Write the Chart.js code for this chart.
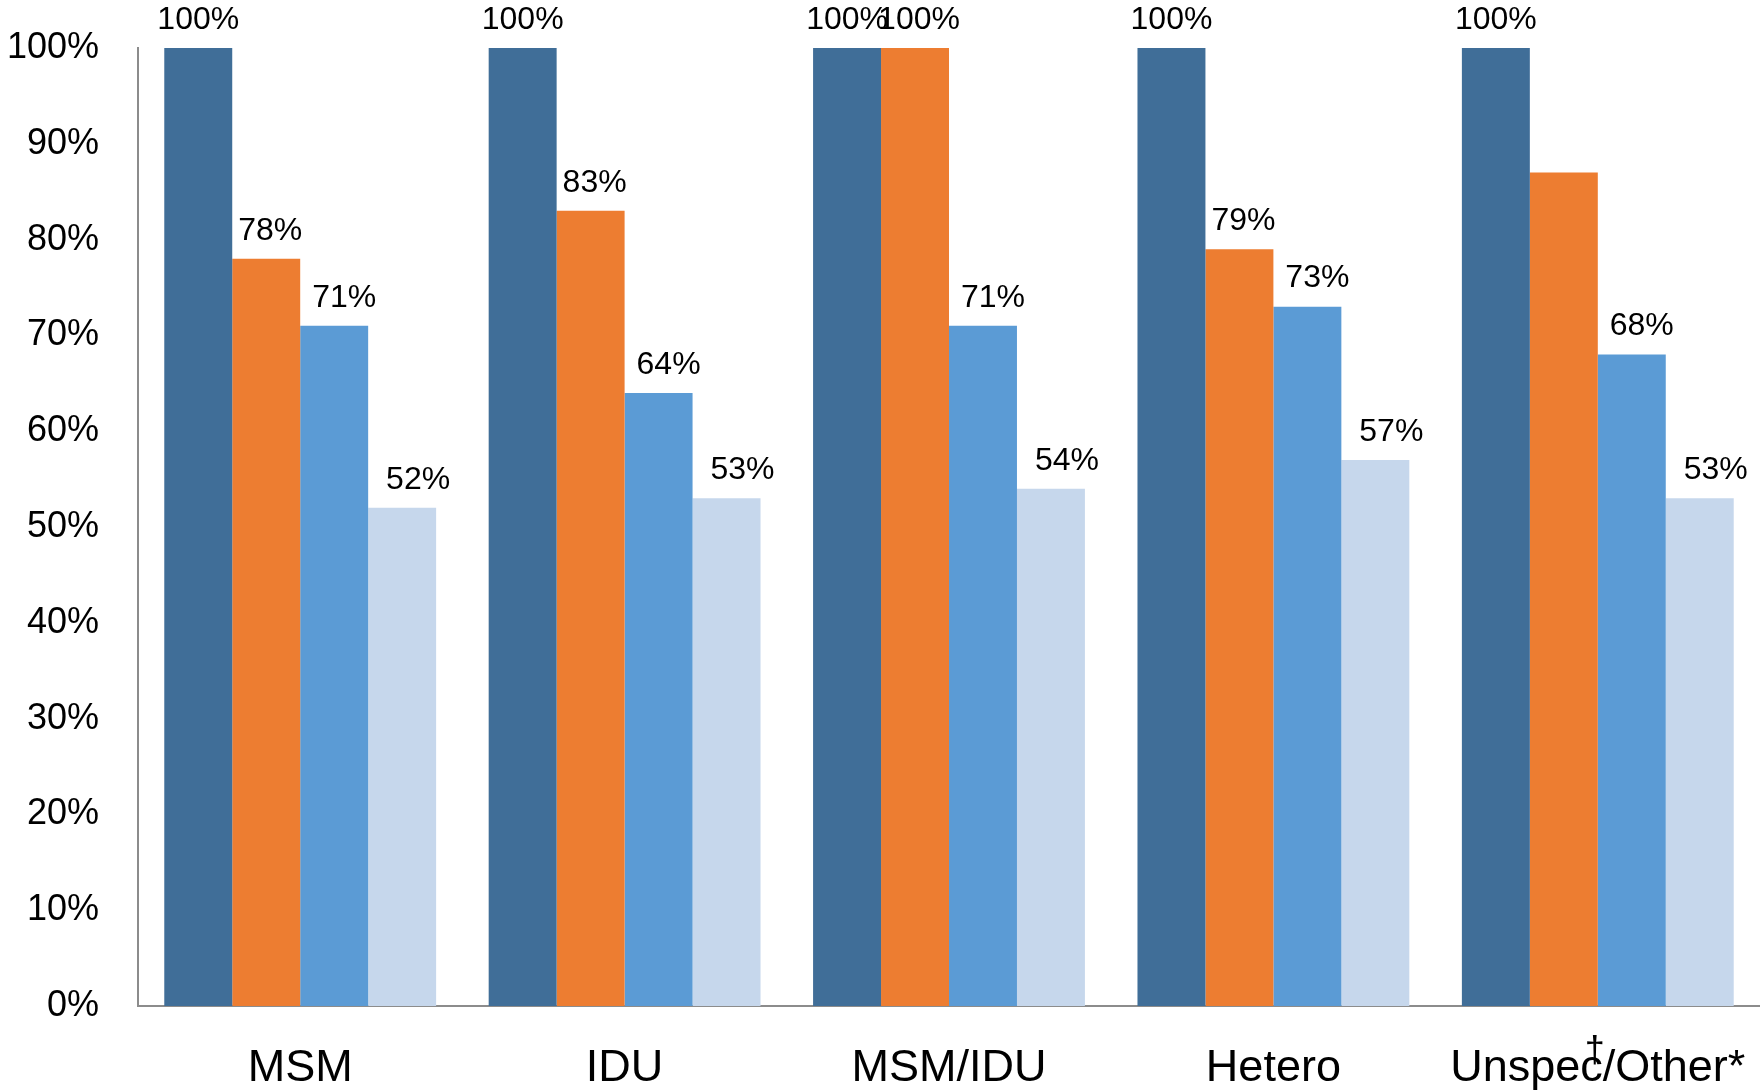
<html lang="">
<head>
    <title>Bar chart</title>
    <script src="https://cdn.jsdelivr.net/npm/chart.js@4.4.1/dist/chart.umd.min.js"></script>
    <style>
        html, body { margin: 0; padding: 0; background: #fff; }
        #wrap { width: 1760px; height: 1091px; }
    </style>
</head>
<body>
<div id="wrap">
    <canvas id="bar-chart" width="1760" height="1091"></canvas>
</div>
<script>
    const categories = ['MSM', 'IDU', 'MSM/IDU', 'Hetero', 'Unspec/Other*'];
    const series1 = [100, 100, 100, 100, 100];
    const series2 = [78, 83, 100, 79, 87];
    const series3 = [71, 64, 71, 73, 68];
    const series4 = [52, 53, 54, 57, 53];
    const yTicks = [0, 10, 20, 30, 40, 50, 60, 70, 80, 90, 100];
    // [dataset, index] of bars that carry no value label
    const unlabeled = [[1, 4]];

    const colors = ['#406E98', '#ED7D31', '#5B9BD5', '#C6D7EC'];
    const labelShift = [0, 4, 10, 16];
    const font = 'Liberation Sans';
    const catSize = 45;

    const valueLabels = {
        id: 'valueLabels',
        afterDatasetsDraw(chart) {
            const ctx = chart.ctx;
            ctx.save();
            ctx.font = '32px "' + font + '"';
            ctx.fillStyle = '#000';
            ctx.textAlign = 'center';
            ctx.textBaseline = 'middle';
            chart.data.datasets.forEach((ds, di) => {
                chart.getDatasetMeta(di).data.forEach((bar, i) => {
                    if (unlabeled.some(u => u[0] === di && u[1] === i)) return;
                    ctx.fillText(ds.data[i] + '%', bar.x + labelShift[di], bar.y - 28);
                });
            });
            ctx.restore();
        }
    };

    // superscript dagger sitting over "c/" in the last category label
    const dagger = {
        id: 'dagger',
        afterDraw(chart) {
            const ctx = chart.ctx;
            const xs = chart.scales.x;
            const last = categories.length - 1;
            ctx.save();
            ctx.font = catSize + 'px "' + font + '"';
            const full = ctx.measureText(categories[last]).width;
            const head = ctx.measureText('Unspec').width;
            const x = xs.getPixelForTick(last) - full / 2 + head - 8;
            ctx.font = '36px "' + font + '"';
            ctx.fillStyle = '#000';
            ctx.textAlign = 'center';
            ctx.textBaseline = 'middle';
            ctx.fillText('\u2020', x, 1052);
            ctx.restore();
        }
    };

    const mk = (label, data, i) => ({
        label: label,
        data: data,
        backgroundColor: colors[i],
        borderWidth: 0,
        barPercentage: 1.0,
        categoryPercentage: 0.838
    });

    new Chart(document.getElementById('bar-chart'), {
        type: 'bar',
        data: {
            labels: categories,
            datasets: [
                mk('s1', series1, 0),
                mk('s2', series2, 1),
                mk('s3', series3, 2),
                mk('s4', series4, 3)
            ]
        },
        options: {
            responsive: false,
            animation: false,
            layout: {padding: {top: 48, right: 0, left: 0, bottom: 0}},
            plugins: {
                legend: {display: false},
                tooltip: {enabled: false},
                title: {display: false}
            },
            scales: {
                x: {
                    grid: {display: false, drawTicks: false},
                    border: {display: true, color: '#8c8c8c', width: 2},
                    ticks: {
                        color: '#000',
                        font: {family: font, size: catSize},
                        padding: 36,
                        maxRotation: 0,
                        autoSkip: false
                    },
                    afterFit(scale) {
                        scale.height = 85;
                        scale.paddingLeft = 0;
                        scale.paddingRight = 0;
                    }
                },
                y: {
                    min: 0,
                    max: 100,
                    afterBuildTicks(scale) { scale.ticks = yTicks.map(v => ({value: v})); },
                    grid: {display: false, drawTicks: false},
                    border: {display: true, color: '#8c8c8c', width: 2},
                    ticks: {
                        color: '#000',
                        font: {family: font, size: 36},
                        padding: 39,
                        callback: v => v + '%'
                    },
                    afterFit(scale) {
                        scale.width = 138;
                        scale.paddingTop = 0;
                        scale.paddingBottom = 0;
                    }
                }
            }
        },
        plugins: [valueLabels, dagger]
    });
</script>
</body>
</html>
